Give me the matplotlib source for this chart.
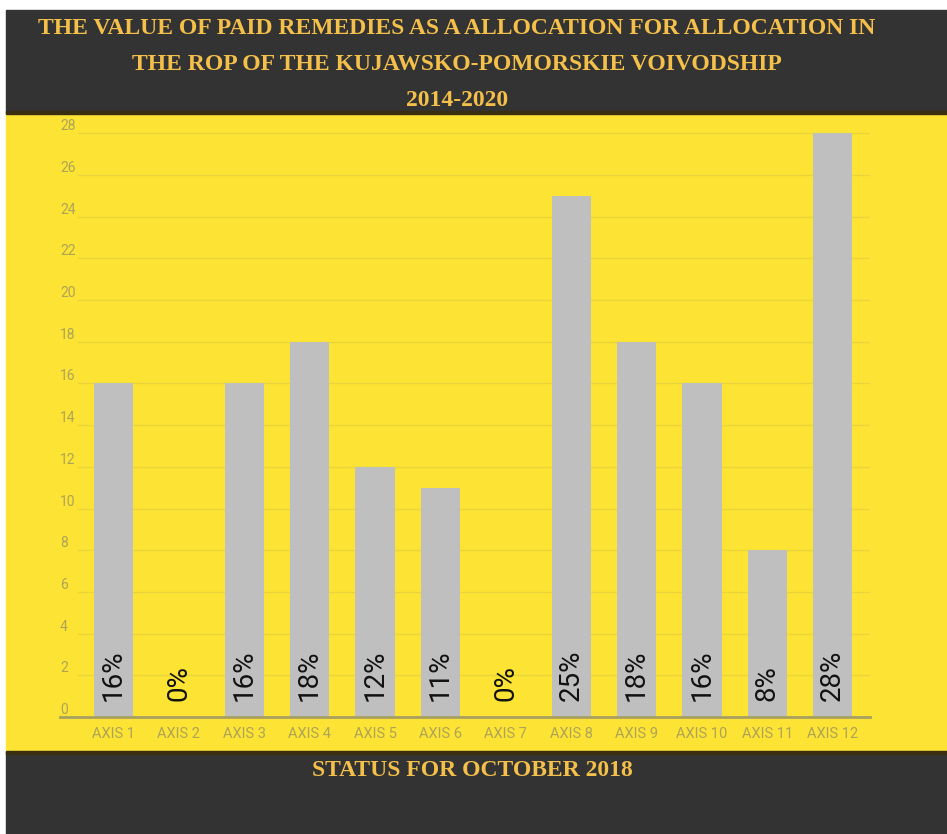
import numpy as np
import matplotlib
matplotlib.use("Agg")
import matplotlib.pyplot as plt
from matplotlib.patches import Rectangle

# data
categories = ["AXIS 1", "AXIS 2", "AXIS 3", "AXIS 4", "AXIS 5", "AXIS 6",
              "AXIS 7", "AXIS 8", "AXIS 9", "AXIS 10", "AXIS 11", "AXIS 12"]
values = [16, 0, 16, 18, 12, 11, 0, 25, 18, 16, 8, 28]
labels = ["16%", "0%", "16%", "18%", "12%", "11%", "0%", "25%", "18%", "16%", "8%", "28%"]
yticks = list(range(0, 29, 2))

title_lines = ["THE VALUE OF PAID REMEDIES AS A ALLOCATION FOR ALLOCATION IN",
               "THE ROP OF THE KUJAWSKO-POMORSKIE VOIVODSHIP",
               "2014-2020"]
footer = "STATUS FOR OCTOBER 2018"

DARK = "#333333"
YELLOW = "#FDE334"
GOLD = "#F4C04A"
BAR = "#BFBFBF"
TICK = "#ADA457"

W, H = 947, 834
fig = plt.figure(figsize=(W / 100, H / 100), dpi=100)
fig.patch.set_facecolor("white")

def box(x0, y0, x1, y1, color):
    # pixel coords from top-left
    fig.patches.append(Rectangle((x0 / W, 1 - y1 / H), (x1 - x0) / W, (y1 - y0) / H,
                                 transform=fig.transFigure, color=color, zorder=-5))

box(6, 10, W, 113, DARK)
box(6, 113, W, 752, YELLOW)
box(6, 752, W, H, DARK)
box(6, 111, W, 114, "#3a2e10")
box(6, 751, W, 754, "#3a2e10")

for line, y in zip(title_lines, [29, 65, 100]):
    fig.text(457 / W, 1 - y / H, line, ha="center", va="center", color=GOLD,
             fontsize=17, fontweight="bold", family="Liberation Serif")
fig.text(472 / W, 1 - 771 / H, footer, ha="center", va="center", color=GOLD,
         fontsize=17, fontweight="bold", family="Liberation Serif")

ax = fig.add_axes([60 / W, 117 / H, 810 / W, 590 / H])
ax.set_zorder(2)
ax.set_facecolor("none")
x = np.arange(len(categories))
ax.bar(x, values, width=0.6, color=BAR, zorder=2)
for xi, lab in zip(x, labels):
    ax.text(xi, 0.75, lab, rotation=90, ha="center", va="bottom", fontsize=20,
            family="Roboto", color="#111111", zorder=3)

ax.set_xlim(-0.818, 11.57)
ax.set_ylim(0, 28.3)

# gridlines start just right of the tick labels
for t in yticks[1:]:
    ax.axhline(t, xmin=0.022, xmax=1, color="#EBD43A", linewidth=1, zorder=1)

ax.set_yticks(yticks)
ax.set_yticklabels([str(t) for t in yticks], fontsize=10, color=TICK, family="Roboto")
for lbl in ax.get_yticklabels():
    lbl.set_va("bottom")
    lbl.set_ha("left")
ax.set_xticks(x)
ax.set_xticklabels(categories, fontsize=10.5, color=TICK, family="Roboto")
ax.tick_params(axis="both", length=0)
ax.tick_params(axis="y", pad=0)
ax.tick_params(axis="x", pad=7)
for s in ["top", "right", "left"]:
    ax.spines[s].set_visible(False)
ax.spines["bottom"].set_color("#A8A060")
ax.spines["bottom"].set_linewidth(2)
ax.spines["bottom"].set_zorder(4)

fig.savefig("out.png", dpi=100)
